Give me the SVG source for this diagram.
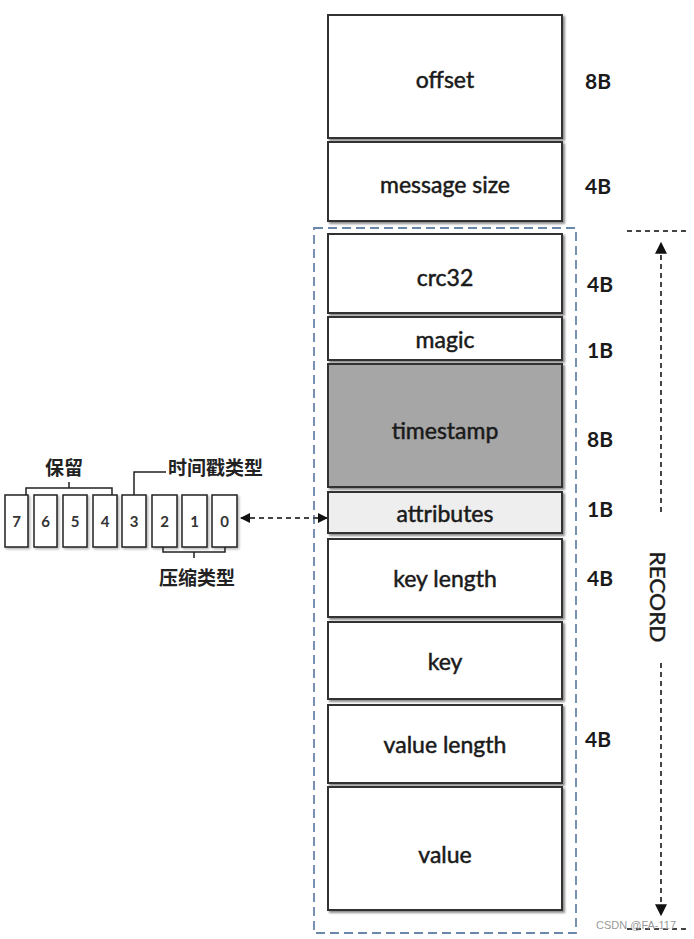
<svg xmlns="http://www.w3.org/2000/svg" width="694" height="939" viewBox="0 0 694 939">
<defs>
<filter id="sh" x="-5%" y="-5%" width="115%" height="120%">
<feDropShadow dx="2" dy="2" stdDeviation="1.2" flood-color="#000" flood-opacity="0.45"/>
</filter>
<filter id="sh2" x="-20%" y="-10%" width="150%" height="130%">
<feDropShadow dx="1.5" dy="1.5" stdDeviation="0.8" flood-color="#000" flood-opacity="0.3"/>
</filter>
<marker id="ah" viewBox="0 0 10 10" refX="9" refY="5" markerWidth="10" markerHeight="10" markerUnits="userSpaceOnUse" orient="auto-start-reverse">
<path d="M0,0 L10,5 L0,10 z" fill="#111"/>
</marker>
<marker id="ahb" viewBox="0 0 10 10" refX="9" refY="5" markerWidth="12" markerHeight="12" markerUnits="userSpaceOnUse" orient="auto-start-reverse">
<path d="M0,0 L10,5 L0,10 z" fill="#111"/>
</marker>
</defs>
<style>
.box{stroke:#333;stroke-width:2;filter:url(#sh)}
.w{fill:#fff}
.t{font-family:Lato,"Open Sans","Liberation Sans",sans-serif;font-size:23px;fill:#1a1a1a;text-anchor:middle;dominant-baseline:central;stroke:#1a1a1a;stroke-width:0.5}
.lb{font-family:Lato,"Open Sans","Liberation Sans",sans-serif;font-size:21px;fill:#1a1a1a;dominant-baseline:central;font-weight:bold}
.bit{fill:#fff;stroke:#222;stroke-width:1.5;filter:url(#sh2)}
.bn{font-family:Lato,"Liberation Sans",sans-serif;font-size:15px;font-weight:bold;fill:#333;text-anchor:middle;dominant-baseline:central}
.cjk{font-family:"Liberation Sans","Noto Sans CJK SC",sans-serif;font-size:19px;fill:#222;font-weight:bold;dominant-baseline:central}
.br{fill:none;stroke:#222;stroke-width:1.5}
.dash{fill:none;stroke:#444;stroke-width:2;stroke-dasharray:5 4}
</style>
<rect width="694" height="939" fill="#fff"/>

<g id="record-frame">
<rect x="314" y="228" width="262" height="705" fill="none" stroke="#6a86aa" stroke-width="1.8" stroke-dasharray="9 5"/>
</g>

<g id="offset"><rect class="box w" x="328" y="15" width="234" height="123"/><text class="t" x="445" y="79">offset</text></g>
<g id="message-size"><rect class="box w" x="328" y="142" width="234" height="79"/><text class="t" x="445" y="184">message size</text></g>
<g id="crc32"><rect class="box w" x="328" y="234" width="234" height="79"/><text class="t" x="445" y="277">crc32</text></g>
<g id="magic"><rect class="box w" x="328" y="317" width="234" height="43"/><text class="t" x="445" y="339">magic</text></g>
<g id="timestamp"><rect class="box" fill="#a6a6a6" x="328" y="364" width="234" height="123"/><text class="t" x="445" y="430">timestamp</text></g>
<g id="attributes"><rect class="box" fill="#eeeeee" x="328" y="492" width="234" height="41"/><text class="t" x="445" y="513">attributes</text></g>
<g id="key-length"><rect class="box w" x="328" y="539" width="234" height="78"/><text class="t" x="445" y="578">key length</text></g>
<g id="key"><rect class="box w" x="328" y="622" width="234" height="77"/><text class="t" x="445" y="661">key</text></g>
<g id="value-length"><rect class="box w" x="328" y="705" width="234" height="78"/><text class="t" x="445" y="744">value length</text></g>
<g id="value"><rect class="box w" x="328" y="787" width="234" height="123"/><text class="t" x="445" y="854">value</text></g>

<g id="sizes">
<text class="lb" x="585" y="80">8B</text>
<text class="lb" x="585" y="185">4B</text>
<text class="lb" x="587" y="283">4B</text>
<text class="lb" x="587" y="349">1B</text>
<text class="lb" x="587" y="438">8B</text>
<text class="lb" x="587" y="508">1B</text>
<text class="lb" x="587" y="577">4B</text>
<text class="lb" x="585" y="738">4B</text>
</g>

<g id="bits">
<rect class="bit" x="5" y="495" width="23" height="52"/><text class="bn" x="16.5" y="521">7</text>
<rect class="bit" x="34" y="495" width="23" height="52"/><text class="bn" x="45.5" y="521">6</text>
<rect class="bit" x="63" y="495" width="24" height="52"/><text class="bn" x="75" y="521">5</text>
<rect class="bit" x="93" y="495" width="24" height="52"/><text class="bn" x="105" y="521">4</text>
<rect class="bit" x="122" y="495" width="24" height="52"/><text class="bn" x="134" y="521">3</text>
<rect class="bit" x="152" y="495" width="25" height="52"/><text class="bn" x="164.5" y="521">2</text>
<rect class="bit" x="182" y="495" width="25" height="52"/><text class="bn" x="194.5" y="521">1</text>
<rect class="bit" x="212" y="495" width="25" height="52"/><text class="bn" x="224.5" y="521">0</text>
</g>

<g id="bit-labels">
<path class="br" d="M26,495 V488 H112 V495 M69,488 V482"/>
<text class="cjk" x="64" y="468" text-anchor="middle">保留</text>
<path class="br" d="M134,495 V472 H166"/>
<text class="cjk" x="168" y="468">时间戳类型</text>
<path class="br" d="M163,547 V552 H225 V547 M194,552 V558"/>
<text class="cjk" x="197" y="578" text-anchor="middle">压缩类型</text>
</g>

<g id="connectors">
<line class="dash" x1="241" y1="518" x2="327" y2="518" marker-start="url(#ah)" marker-end="url(#ah)"/>
<line class="dash" x1="627" y1="231" x2="690" y2="231"/>
<line class="dash" x1="661" y1="512" x2="661" y2="243" marker-end="url(#ahb)"/>
<line class="dash" x1="661" y1="663" x2="661" y2="915" marker-end="url(#ahb)"/>
<line class="dash" x1="627" y1="929" x2="690" y2="929"/>
</g>

<g id="record-label">
<text transform="translate(658,597) rotate(90)" font-family="Lato,'Open Sans','Liberation Sans',sans-serif" font-size="22" fill="#1a1a1a" stroke="#1a1a1a" stroke-width="0.4" text-anchor="middle" dominant-baseline="central" textLength="91" lengthAdjust="spacingAndGlyphs">RECORD</text>
</g>

<text x="596" y="925" font-family="'Liberation Sans',sans-serif" font-size="11" fill="#9a9a9a" dominant-baseline="central">CSDN @FA-117</text>
</svg>
